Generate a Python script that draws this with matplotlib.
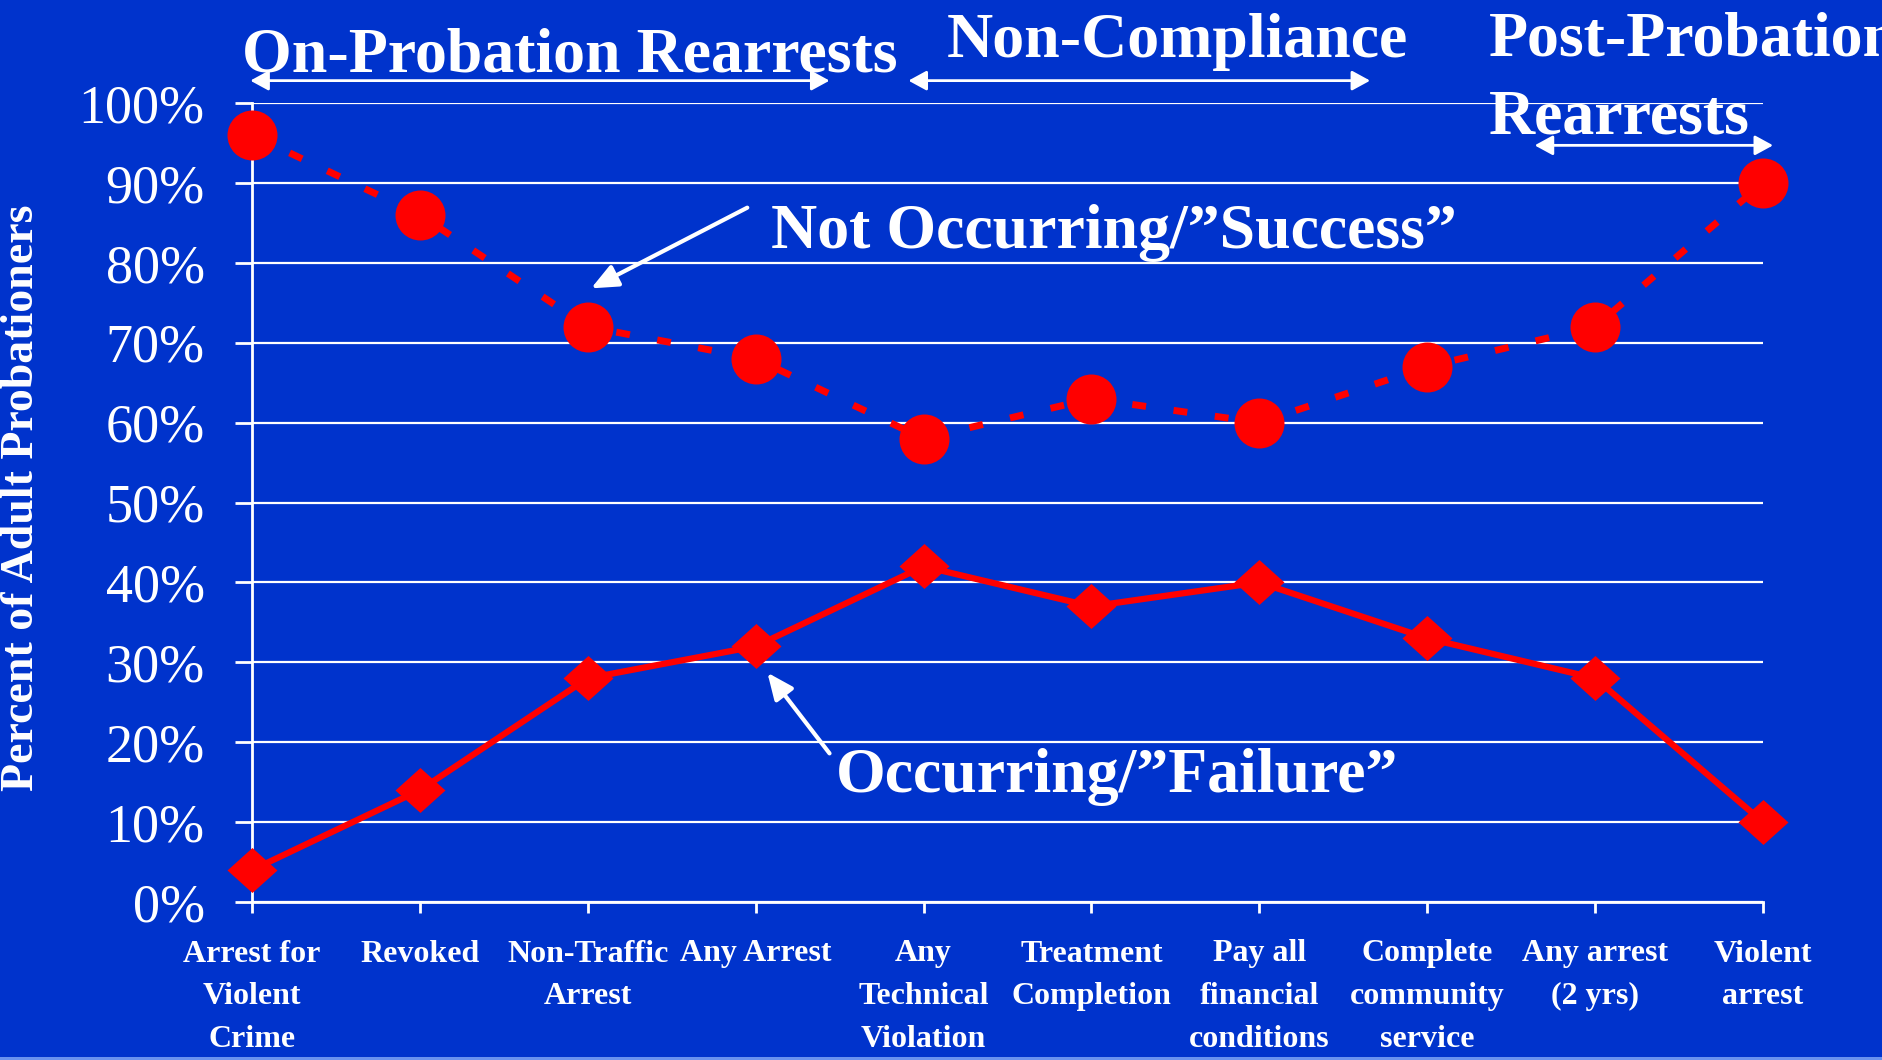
import matplotlib
matplotlib.use("Agg")
import matplotlib.pyplot as plt
from matplotlib.path import Path
from matplotlib.patches import Rectangle

# ---- data ----
categories = ["Arrest for\nViolent\nCrime", "Revoked", "Non-Traffic\nArrest", "Any Arrest",
              "Any\nTechnical\nViolation", "Treatment\nCompletion", "Pay all\nfinancial\nconditions",
              "Complete\ncommunity\nservice", "Any arrest\n(2 yrs)", "Violent\narrest"]
success = [96, 86, 72, 68, 58, 63, 60, 67, 72, 90]
failure = [4, 14, 28, 32, 42, 37, 40, 33, 28, 10]
yticks = [0, 10, 20, 30, 40, 50, 60, 70, 80, 90, 100]
ytick_labels = ["0%", "10%", "20%", "30%", "40%", "50%", "60%", "70%", "80%", "90%", "100%"]

BLUE = "#0033CC"
RED = "#FF0000"
W, H = 1883, 1060
FONT = "Liberation Serif"

fig = plt.figure(figsize=(W / 100, H / 100), dpi=100, facecolor=BLUE)
fig.patches.append(Rectangle((0, 0), 1, 3 / H, transform=fig.transFigure,
                             facecolor="#6A92EE", edgecolor="none"))
ax = fig.add_axes([252 / W, 158 / H, (1763 - 252) / W, (902 - 103) / H])
ax.set_facecolor(BLUE)
x = list(range(len(categories)))
ax.set_xlim(0, len(categories) - 1)
ax.set_ylim(0, 100)

ax.set_yticks(yticks)
ax.set_yticklabels(ytick_labels, fontfamily=FONT, fontsize=39, color="white")
ax.set_xticks(x)
ax.set_xticklabels(categories, fontfamily=FONT, fontsize=23, fontweight="bold",
                   color="white", linespacing=1.62)
ax.tick_params(axis="y", length=12, width=2, color="white", pad=22, direction="out")
ax.tick_params(axis="x", length=8, width=2, color="white", pad=19, direction="out")
ax.grid(axis="y", color="white", lw=1.6)
ax.set_axisbelow("line")
for s in ["top", "right"]:
    ax.spines[s].set_visible(False)
for s in ["left", "bottom"]:
    ax.spines[s].set_color("white")
    ax.spines[s].set_linewidth(2)

diamond = Path([(-1, 0), (0, 0.9), (1, 0), (0, -0.9), (-1, 0)],
               [Path.MOVETO, Path.LINETO, Path.LINETO, Path.LINETO, Path.CLOSEPOLY])

ax.plot(x, success, color=RED, lw=5, dashes=(2.0, 4.0), dash_capstyle="butt",
        marker="o", markersize=36, markeredgewidth=0, clip_on=False, zorder=3)
ax.plot(x, failure, color=RED, lw=4.5, marker=diamond, markersize=36,
        markeredgewidth=0, clip_on=False, zorder=3)

fig.text(22 / W, 1 - 498 / H, "Percent of Adult Probationers", rotation=90,
         ha="center", va="center", fontfamily=FONT, fontsize=33,
         fontweight="bold", color="white")

hdr = dict(fontfamily=FONT, fontsize=46, fontweight="bold", color="white",
           va="baseline", ha="left", clip_on=False, zorder=1)
ax.text(-0.06, 103.9, "On-Probation Rearrests", **hdr)
ax.text(4.14, 105.8, "Non-Compliance", **hdr)
ax.text(7.37, 106.0, "Post-Probation", **hdr)
ax.text(7.37, 96.2, "Rearrests", **hdr)

dbl = dict(arrowstyle="<|-|>,head_length=1.1,head_width=0.6", color="white", lw=2,
           shrinkA=0, shrinkB=0)
for x0, x1, yy in [(-0.01, 3.44, 102.8), (3.91, 6.66, 102.8), (7.64, 9.06, 94.7)]:
    ax.annotate("", xy=(x1, yy), xytext=(x0, yy), arrowprops=dbl,
                annotation_clip=False)

lab = dict(fontfamily=FONT, fontsize=46, fontweight="bold", color="white",
           va="baseline", ha="left", zorder=4)
single = dict(arrowstyle="-|>,head_length=1.6,head_width=0.7", color="white", lw=3,
              shrinkA=0, shrinkB=0)
ax.text(3.09, 81.9, "Not Occurring/\u201dSuccess\u201d", **lab)
ax.annotate("", xy=(2.02, 76.8), xytext=(2.95, 86.9), arrowprops=single)
ax.text(3.48, 13.8, "Occurring/\u201dFailure\u201d", **lab)
ax.annotate("", xy=(3.07, 28.7), xytext=(3.44, 18.6), arrowprops=single)

fig.savefig("out.png", dpi=100, facecolor=BLUE)
